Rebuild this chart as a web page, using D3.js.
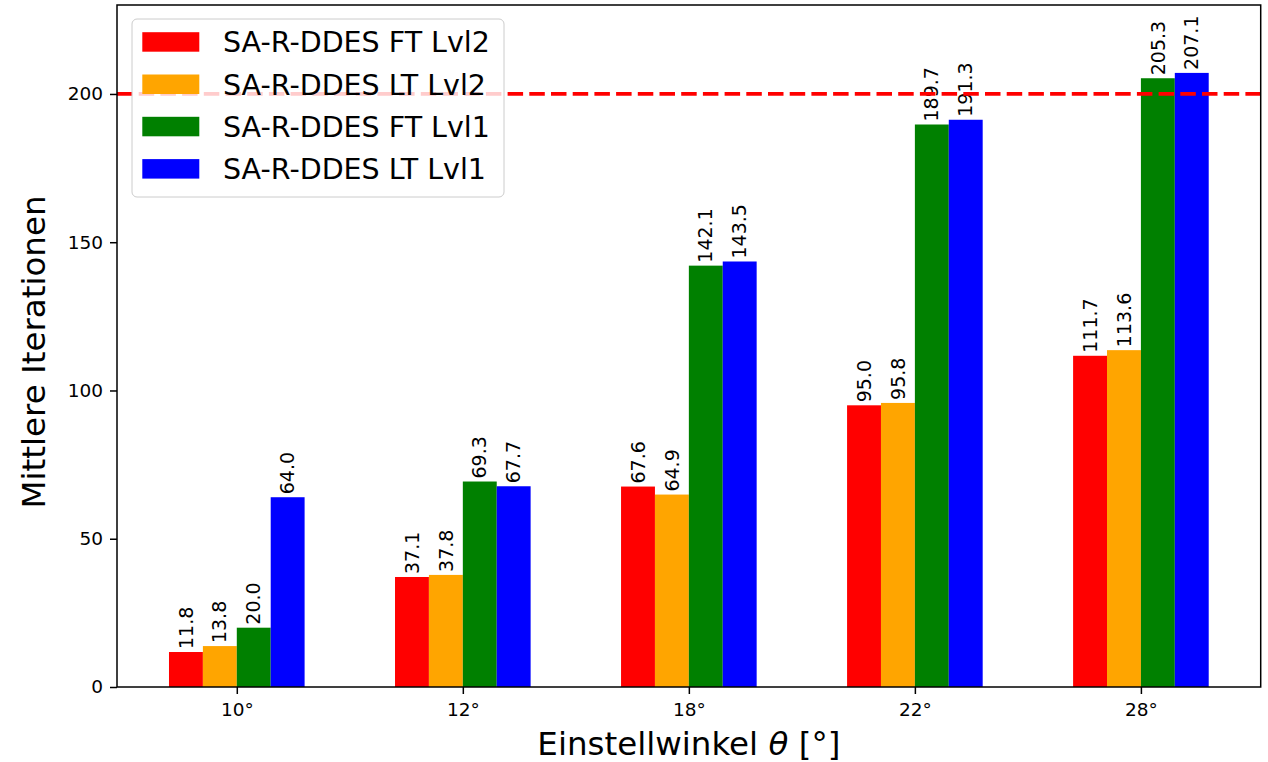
<!DOCTYPE html>
<html>
<head>
<meta charset="utf-8">
<script src="https://cdn.jsdelivr.net/npm/d3@7"></script>
<style>
  body { margin: 0; background: #fff; }
  text { font-family: "DejaVu Sans", sans-serif; fill: #000; }
</style>
</head>
<body>
<div id="chart"></div>
<script>
// data
var categories = ['10°', '12°', '18°', '22°', '28°'];
var seriesNames = ['SA-R-DDES FT Lvl2', 'SA-R-DDES LT Lvl2', 'SA-R-DDES FT Lvl1', 'SA-R-DDES LT Lvl1'];
var seriesColors = ['#ff0000', '#ffa500', '#008000', '#0000ff'];
var ftLvl2 = [11.8, 37.1, 67.6, 95.0, 111.7];
var ltLvl2 = [13.8, 37.8, 64.9, 95.8, 113.6];
var ftLvl1 = [20.0, 69.3, 142.1, 189.7, 205.3];
var ltLvl1 = [64.0, 67.7, 143.5, 191.3, 207.1];
var yTicks = [0, 50, 100, 150, 200];
var limitLine = 200;

var series = [ftLvl2, ltLvl2, ftLvl1, ltLvl1];

var svgWidth = 1268, svgHeight = 762;
var plot = { left: 117, right: 1260.7, top: 5, bottom: 687 };
var barWidth = 0.15;

var svg = d3.select('#chart').append('svg')
  .attr('width', svgWidth)
  .attr('height', svgHeight);

svg.append('rect').attr('width', svgWidth).attr('height', svgHeight).attr('fill', '#fff');

// scales
var xScale = d3.scaleLinear()
  .domain([-0.53, categories.length - 1 + 0.53])
  .range([plot.left, plot.right]);

var yScale = d3.scaleLinear()
  .domain([0, 230])
  .range([plot.bottom, plot.top]);

// flatten bars
var bars = [];
series.forEach(function(vals, s) {
  vals.forEach(function(v, i) {
    bars.push({ s: s, i: i, v: v, x: i + (s - 1.5) * barWidth });
  });
});

var barPx = xScale(barWidth) - xScale(0);

svg.append('g').selectAll('rect')
  .data(bars)
  .enter()
  .append('rect')
  .attr('x', d => xScale(d.x) - barPx / 2)
  .attr('y', d => yScale(d.v))
  .attr('width', barPx)
  .attr('height', d => yScale(0) - yScale(d.v))
  .attr('fill', d => seriesColors[d.s]);

// value labels
svg.append('g').selectAll('text')
  .data(bars)
  .enter()
  .append('text')
  .attr('transform', d => `translate(${xScale(d.x)}, ${yScale(d.v) - 3}) rotate(-90)`)
  .attr('dy', '0.35em')
  .attr('font-size', '19px')
  .text(d => d.v.toFixed(1));

// dashed limit line
svg.append('line')
  .attr('x1', plot.left)
  .attr('x2', plot.right)
  .attr('y1', yScale(limitLine))
  .attr('y2', yScale(limitLine))
  .attr('stroke', '#ff0000')
  .attr('stroke-width', 3.7)
  .attr('stroke-dasharray', '15.5,6.2');

// axes
var xAxis = d3.axisBottom(xScale)
  .tickValues(d3.range(categories.length))
  .tickFormat(i => categories[i])
  .tickSize(7)
  .tickPadding(9);

var yAxis = d3.axisLeft(yScale)
  .tickValues(yTicks)
  .tickSize(7)
  .tickPadding(7);

var gx = svg.append('g')
  .attr('transform', `translate(0, ${plot.bottom})`)
  .call(xAxis);

var gy = svg.append('g')
  .attr('transform', `translate(${plot.left}, 0)`)
  .call(yAxis);

[gx, gy].forEach(function(g) {
  g.select('.domain').remove();
  g.selectAll('.tick line').attr('stroke', '#000').attr('stroke-width', 1.5);
  g.selectAll('.tick text')
    .attr('font-size', '18.5px')
    .attr('font-family', '"DejaVu Sans", sans-serif')
    .attr('fill', '#000');
});

// frame
svg.append('rect')
  .attr('x', plot.left)
  .attr('y', plot.top)
  .attr('width', plot.right - plot.left)
  .attr('height', plot.bottom - plot.top)
  .attr('fill', 'none')
  .attr('stroke', '#000')
  .attr('stroke-width', 1.5);

// axis titles
svg.append('text')
  .attr('x', (plot.left + plot.right) / 2)
  .attr('y', 755)
  .attr('text-anchor', 'middle')
  .attr('font-size', '32.5px')
  .html('Einstellwinkel <tspan font-style="italic">θ</tspan> [°]');

svg.append('text')
  .attr('transform', `translate(45, ${(plot.top + plot.bottom) / 2 + 6}) rotate(-90)`)
  .attr('text-anchor', 'middle')
  .attr('font-size', '32.5px')
  .text('Mittlere Iterationen');

// legend
var legend = svg.append('g');
legend.append('rect')
  .attr('x', 132)
  .attr('y', 19)
  .attr('width', 372)
  .attr('height', 178)
  .attr('rx', 5)
  .attr('fill', '#fff')
  .attr('fill-opacity', 0.8)
  .attr('stroke', '#cccccc')
  .attr('stroke-width', 1);

var rows = legend.selectAll('g.row')
  .data(seriesNames)
  .enter()
  .append('g')
  .attr('class', 'row')
  .attr('transform', (d, i) => `translate(0, ${42 + i * 42.3})`);

rows.append('rect')
  .attr('x', 142.3)
  .attr('y', -9.8)
  .attr('width', 57)
  .attr('height', 19.5)
  .attr('fill', (d, i) => seriesColors[i]);

rows.append('text')
  .attr('x', 223)
  .attr('dy', '0.36em')
  .attr('font-size', '28.5px')
  .text(d => d);
</script>
</body>
</html>
